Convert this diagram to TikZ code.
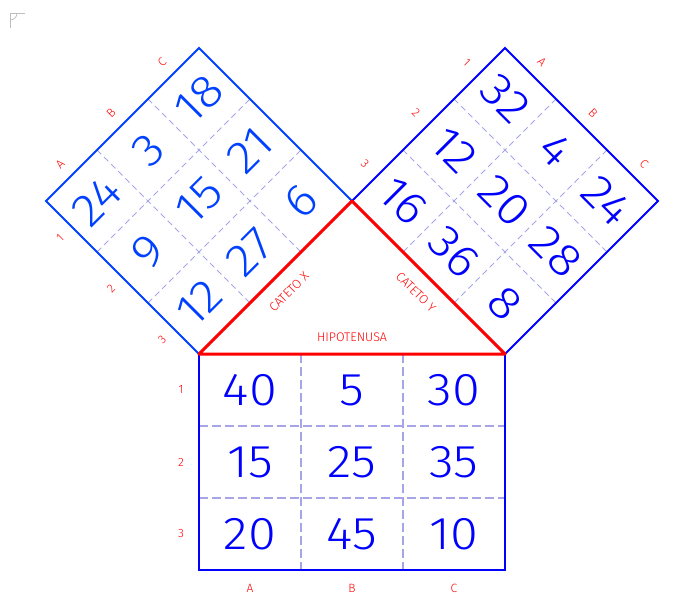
\documentclass[tikz,border=0pt]{standalone}
\usepackage{fontspec}
\setmainfont{Liberation Sans}
\newfontfamily\cadfont{Fira Sans Light}[FakeStretch=1.1]
\newfontfamily\tagfont{Fira Sans Light}
\usepackage{xcolor}
\usepackage{tikz}
\usetikzlibrary{positioning, calc}

\definecolor{blueL}{RGB}{0,64,255}
\definecolor{blueR}{RGB}{0,0,255}
\definecolor{redT}{RGB}{255,0,0}
\definecolor{dashB}{RGB}{165,165,232}
\definecolor{iconG}{RGB}{190,190,190}

\tikzset{
  num/.style={inner sep=0pt, font=\cadfont\fontsize{46}{46}\selectfont},
  numL/.style={num, text=blueL, rotate=45},
  numR/.style={num, text=blueR, rotate=-45},
  numB/.style={num, text=blueR},
  tag/.style={inner sep=0pt, text=redT, font=\tagfont\fontsize{12}{12}\selectfont},
  side/.style={inner sep=0pt, text=redT, font=\tagfont\fontsize{12.5}{12}\selectfont},
  frame/.style={line width=2pt, line join=miter},
  griddash/.style={dashB, line width=1pt, dash pattern=on 6pt off 4pt},
  legline/.style={redT, line width=3pt, line join=round},
}

\begin{document}
\begin{tikzpicture}[x=1pt, y=-1pt, on grid]
        \useasboundingbox (0,0) rectangle (691,606);

        % corners
        \coordinate (hl) at (199,354);
        \coordinate (hr) at (505,354);
        \coordinate (top) at (352,201);
        \coordinate (xl) at (46,201);
        \coordinate (xt) at (199,48);
        \coordinate (yt) at (505,48);
        \coordinate (yr) at (658,201);
        \coordinate (bl) at (199,570);
        \coordinate (br) at (505,570);

        \draw[iconG, line width=0.8pt] (10,28) -- (10,13) -- (25,13);
        \draw[iconG, line width=0.8pt] (17,13) .. controls (17,17) and (14,20) .. (10,20);

        % dashed cells
        \draw[griddash] ($(xl)!0.3333!(xt)$) -- ($(hl)!0.3333!(top)$);
        \draw[griddash] ($(xl)!0.6667!(xt)$) -- ($(hl)!0.6667!(top)$);
        \draw[griddash] ($(xl)!0.3333!(hl)$) -- ($(xt)!0.3333!(top)$);
        \draw[griddash] ($(xl)!0.6667!(hl)$) -- ($(xt)!0.6667!(top)$);

        \draw[griddash] ($(yt)!0.3333!(yr)$) -- ($(top)!0.3333!(hr)$);
        \draw[griddash] ($(yt)!0.6667!(yr)$) -- ($(top)!0.6667!(hr)$);
        \draw[griddash] ($(yt)!0.3333!(top)$) -- ($(yr)!0.3333!(hr)$);
        \draw[griddash] ($(yt)!0.6667!(top)$) -- ($(yr)!0.6667!(hr)$);

        \draw[griddash, line width=1.5pt, dash pattern=on 9pt off 4pt] ($(hl)!0.3333!(hr)$) -- ($(bl)!0.3333!(br)$);
        \draw[griddash, line width=1.5pt, dash pattern=on 9pt off 4pt] ($(hl)!0.6667!(hr)$) -- ($(bl)!0.6667!(br)$);
        \draw[griddash, line width=1.5pt, dash pattern=on 9pt off 4pt] ($(hl)!0.3333!(bl)$) -- ($(hr)!0.3333!(br)$);
        \draw[griddash, line width=1.5pt, dash pattern=on 9pt off 4pt] ($(hl)!0.6667!(bl)$) -- ($(hr)!0.6667!(br)$);

        % squares
        \draw[frame, blueL] (xl) -- (xt) -- (top) -- (hl) -- cycle;
        \draw[frame, blueR] (top) -- (yt) -- (yr) -- (hr) -- cycle;
        \draw[frame, blueR] (hl) rectangle (br);

        \draw[legline] (hl) -- (top) -- (hr) -- cycle;

        % cateto x
        \node[numL] (l24) at (97,201) {24};
        \node[numL] (l3) [above right=51pt and 51pt of l24] {3};
        \node[numL] (l18) [above right=51pt and 51pt of l3] {18};
        \node[numL] (l9) [below right=51pt and 51pt of l24] {9};
        \node[numL] (l15) [above right=51pt and 51pt of l9] {15};
        \node[numL] (l21) [above right=51pt and 51pt of l15] {21};
        \node[numL] (l12) [below right=51pt and 51pt of l9] {12};
        \node[numL] (l27) [above right=51pt and 51pt of l12] {27};
        \node[numL] (l6) [above right=51pt and 51pt of l27] {6};

        \node[tag, rotate=45] (lA) [above left=37pt and 37pt of l24] {A};
        \node[tag, rotate=45] (lB) [above left=37pt and 37pt of l3] {B};
        \node[tag, rotate=45] (lC) [above left=37pt and 37pt of l18] {C};
        \node[tag, rotate=45] (l1) [below left=37pt and 37pt of l24] {1};
        \node[tag, rotate=45] (l2) [below left=37pt and 37pt of l9] {2};
        \node[tag, rotate=45] (l3t) [below left=37pt and 37pt of l12] {3};

        % cateto y
        \node[numR] (r32) at (505,99) {32};
        \node[numR] (r4) [below right=51pt and 51pt of r32] {4};
        \node[numR] (r24) [below right=51pt and 51pt of r4] {24};
        \node[numR] (r12) [below left=51pt and 51pt of r32] {12};
        \node[numR] (r20) [below right=51pt and 51pt of r12] {20};
        \node[numR] (r28) [below right=51pt and 51pt of r20] {28};
        \node[numR] (r16) [below left=51pt and 51pt of r12] {16};
        \node[numR] (r36) [below right=51pt and 51pt of r16] {36};
        \node[numR] (r8) [below right=51pt and 51pt of r36] {8};

        \node[tag, rotate=-45] (rA) [above right=37pt and 37pt of r32] {A};
        \node[tag, rotate=-45] (rB) [above right=37pt and 37pt of r4] {B};
        \node[tag, rotate=-45] (rC) [above right=37pt and 37pt of r24] {C};
        \node[tag, rotate=-45] (r1) [above left=37pt and 38pt of r32] {1};
        \node[tag, rotate=-45] (r2) [above left=37pt and 38pt of r12] {2};
        \node[tag, rotate=-45] (r3) [above left=37pt and 38pt of r16] {3};

        % hipotenusa
        \node[numB] (b40) at (250,390) {40};
        \node[numB] (b5) [right=102pt of b40] {5};
        \node[numB] (b30) [right=102pt of b5] {30};
        \node[numB] (b15) [below=72pt of b40] {15};
        \node[numB] (b25) [right=102pt of b15] {25};
        \node[numB] (b35) [right=102pt of b25] {35};
        \node[numB] (b20) [below=72pt of b15] {20};
        \node[numB] (b45) [right=102pt of b20] {45};
        \node[numB] (b10) [right=102pt of b45] {10};

        \node[tag] (b1) [left=69pt of b40] {1};
        \node[tag] (b2) [left=69pt of b15] {2};
        \node[tag] (b3) [left=69pt of b20] {3};
        \node[tag] (bA) [below=54pt of b20] {A};
        \node[tag] (bB) [below=54pt of b45] {B};
        \node[tag] (bC) [below=54pt of b10] {C};

        \node[side, rotate=45] (catx) at (289,292) {CATETO X};
        \node[side, rotate=-45] (caty) at (416,292) {CATETO Y};
        \node[side] (hyp) at (352,337) {HIPOTENUSA};

\end{tikzpicture}
\end{document}
